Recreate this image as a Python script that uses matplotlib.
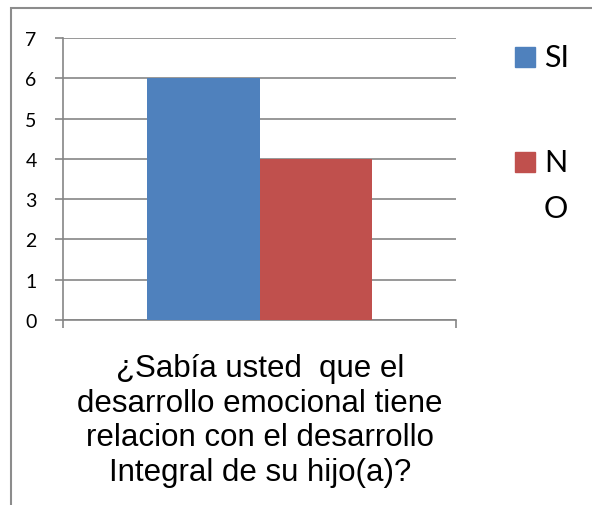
import numpy as np
import matplotlib.pyplot as plt
from matplotlib.patches import Rectangle

# data
category = '¿Sabía usted  que el\ndesarrollo emocional tiene\nrelacion con el desarrollo\nIntegral de su hijo(a)?'
series_names = ['SI', 'NO']
series_values = [6, 4]
series_colors = ['#4F81BD', '#C0504D']
y_ticks = [0, 1, 2, 3, 4, 5, 6, 7]

W, H = 592, 506
fig = plt.figure(figsize=(W / 100, H / 100), dpi=100)
fig.patch.set_facecolor('white')

# outer chart frame (left + top edges visible)
fig.patches.append(Rectangle((11 / W, -0.2), 2.0, (H - 9) / H + 0.2, transform=fig.transFigure,
                             fill=False, edgecolor='#8c8c8c', lw=1.5, zorder=0))

ax = fig.add_axes([63 / W, (H - 321) / H, (456 - 63) / W, (321 - 39) / H])

bar_w = 0.285
offsets = [-bar_w / 2, bar_w / 2]
for off, val, col, name in zip(offsets, series_values, series_colors, series_names):
    ax.bar(0 + off, val, width=bar_w, color=col, zorder=3, label=name)

ax.set_xlim(-0.5, 0.5)
ax.set_ylim(0, 7)
ax.set_yticks(y_ticks)
ax.set_yticklabels([str(t) for t in y_ticks], fontfamily='Lato', fontsize=14)
ax.set_xticks([-0.5, 0.5])
ax.set_xticklabels(['', ''])
ax.tick_params(axis='y', length=6, width=1.2, color='#868686', pad=13)
ax.tick_params(axis='x', length=6, width=1.2, color='#868686', direction='out')
ax.grid(axis='y', color='#868686', lw=1.2, zorder=0)
for s in ['top', 'right']:
    ax.spines[s].set_visible(False)
ax.spines['left'].set_color('#868686')
ax.spines['left'].set_linewidth(1.2)
ax.spines['bottom'].set_color('#868686')
ax.spines['bottom'].set_linewidth(1.2)

# category label under the axis
fig.text(260 / W, 1 - 354 / H, category, ha='center', va='top', fontsize=22.5,
         fontfamily='Liberation Sans', linespacing=1.2)

# legend
legend_y = [58, 163]
legend_lines = [['SI'], ['N', 'O']]
for yc, col, lines in zip(legend_y, series_colors, legend_lines):
    fig.patches.append(Rectangle((515 / W, 1 - (yc + 10) / H), 20 / W, 20 / H,
                                 transform=fig.transFigure, color=col))
    for i, t in enumerate(lines):
        fig.text(544 / W, 1 - (yc + i * 46) / H, t, ha='left', va='center',
                 fontsize=22, fontfamily='Lato')

fig.savefig('out.png', dpi=100)
